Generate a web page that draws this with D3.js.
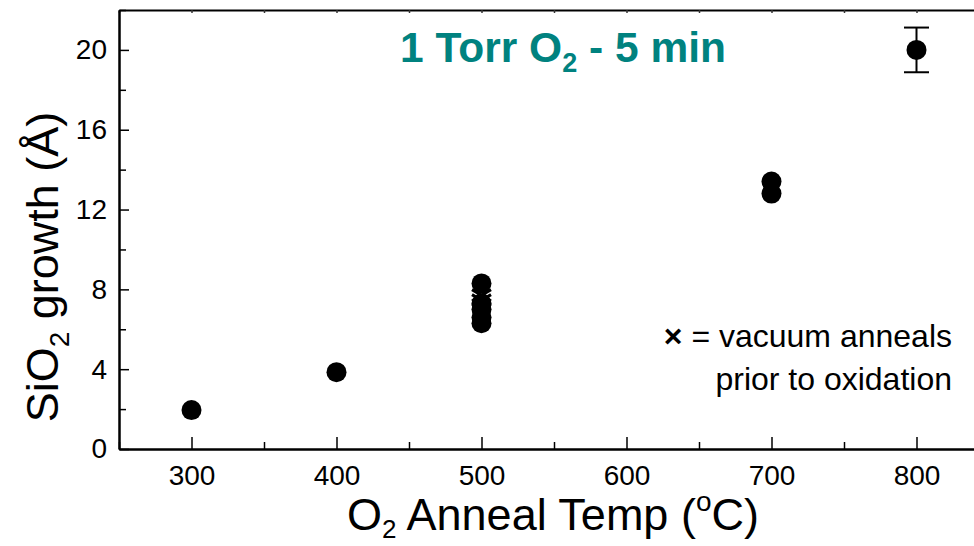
<!DOCTYPE html>
<html>
<head>
<meta charset="utf-8">
<script src="https://cdn.jsdelivr.net/npm/d3@7"></script>
<style>
  body { margin: 0; background: #fff; }
  svg { display: block; font-family: "Liberation Sans", Arial, sans-serif; }
</style>
</head>
<body>
<div id="chart"></div>
<script>
// data
const temps = [300, 400, 500, 500, 500, 500, 500, 700, 700, 800];
const growth = [1.95, 3.85, 8.3, 7.3, 7.0, 6.6, 6.3, 13.4, 12.8, 20];
const vacTemps = [500, 500];
const vacGrowth = [7.7, 7.45];
const errTemp = 800, errValue = 20, errHalf = 1.12;

const xMajor = [300, 400, 500, 600, 700, 800];
const xMinor = [250, 350, 450, 550, 650, 750, 850];
const yMajor = [0, 4, 8, 12, 16, 20];
const yMinor = [2, 6, 10, 14, 18, 22];

const W = 974, H = 546;
let margin = {top: 10, left: 119};
let width = 870, height = 439;

const svg = d3.select("#chart").append("svg")
    .attr("width", W).attr("height", H);

const g = svg.append("g")
    .attr("transform", "translate(" + margin.left + "," + margin.top + ")");

const x = d3.scaleLinear().domain([250, 850]).range([0, width]);
const y = d3.scaleLinear().domain([0, 22]).range([height, 0]);

// bottom axis
const xAx = g.append("g")
    .attr("transform", "translate(0," + height + ")")
    .call(d3.axisBottom(x).tickValues(xMajor).tickSizeInner(-12).tickSizeOuter(0).tickPadding(16));
g.append("g")
    .attr("transform", "translate(0," + height + ")")
    .call(d3.axisBottom(x).tickValues(xMinor).tickSizeInner(-7).tickSizeOuter(0).tickFormat(""));

// top axis, short ticks
g.append("g")
    .call(d3.axisTop(x).tickValues(xMajor.concat(xMinor)).tickSizeInner(-3).tickSizeOuter(0).tickFormat(""))
    .selectAll("path,line").attr("stroke", "#333");

// left axis
const yAx = g.append("g")
    .call(d3.axisLeft(y).tickValues(yMajor).tickSizeInner(-10).tickSizeOuter(0).tickPadding(12));
g.append("g")
    .call(d3.axisLeft(y).tickValues(yMinor).tickSizeInner(-7).tickSizeOuter(0).tickFormat(""));

// right axis (mostly off canvas)
g.append("g")
    .attr("transform", "translate(" + width + ",0)")
    .call(d3.axisRight(y).tickValues(yMajor).tickSizeInner(-10).tickSizeOuter(0).tickFormat(""));

g.selectAll(".domain").attr("stroke-width", 2).attr("stroke", "#000");
g.selectAll(".tick line").attr("stroke-width", 1.5);
g.selectAll("g").attr("font-size", null).attr("font-family", null);
g.selectAll(".tick text")
    .style("font-size", "28px")
    .style("font-family", "'Liberation Sans', Arial, sans-serif")
    .attr("fill", "#000");

// vacuum anneal markers (under the circles)
g.selectAll(".vac")
  .data(vacTemps.map((t, i) => ({t: t, v: vacGrowth[i]})))
  .enter().append("path")
    .attr("class", "vac")
    .attr("d", d => {
      const cx = x(d.t), cy = y(d.v), s = 9.5;
      return "M" + (cx - s) + "," + (cy - s * 0.6) + "L" + (cx + s) + "," + (cy + s * 0.6) +
             "M" + (cx - s) + "," + (cy + s * 0.6) + "L" + (cx + s) + "," + (cy - s * 0.6);
    })
    .attr("stroke", "#000").attr("stroke-width", 3).attr("fill", "none");

// error bar
const ex = x(errTemp);
g.append("line").attr("x1", ex).attr("x2", ex)
    .attr("y1", y(errValue + errHalf)).attr("y2", y(errValue - errHalf))
    .attr("stroke", "#000").attr("stroke-width", 2);
[errValue + errHalf, errValue - errHalf].forEach(v => {
  g.append("line").attr("x1", ex - 12.5).attr("x2", ex + 12.5)
      .attr("y1", y(v)).attr("y2", y(v))
      .attr("stroke", "#000").attr("stroke-width", 2);
});

// data points
g.selectAll(".pt")
  .data(temps.map((t, i) => ({t: t, v: growth[i]})))
  .enter().append("circle")
    .attr("class", "pt")
    .attr("cx", d => x(d.t))
    .attr("cy", d => y(d.v))
    .attr("r", 10)
    .attr("fill", "#000");

// title
const title = svg.append("text")
    .attr("x", 563).attr("y", 62)
    .attr("text-anchor", "middle")
    .style("font-size", "42.5px").attr("font-weight", "bold").attr("fill", "#00827f");
title.append("tspan").text("1 Torr O");
title.append("tspan").style("font-size", "27px").attr("dy", 10).text("2");
title.append("tspan").attr("dy", -10).text(" - 5 min");

// annotation
svg.append("text")
    .attr("x", 952).attr("y", 347).attr("text-anchor", "end")
    .style("font-size", "32px").attr("fill", "#000")
    .call(t => {
      t.append("tspan").attr("font-weight", "bold").text("×");
      t.append("tspan").text(" = vacuum anneals");
    });
svg.append("text")
    .attr("x", 952).attr("y", 390).attr("text-anchor", "end")
    .style("font-size", "32px").attr("fill", "#000")
    .text("prior to oxidation");

// x axis title
const xt = svg.append("text")
    .attr("x", 553).attr("y", 530)
    .attr("text-anchor", "middle")
    .style("font-size", "45px").attr("fill", "#000");
xt.append("tspan").text("O");
xt.append("tspan").style("font-size", "26px").attr("dy", 8).text("2");
xt.append("tspan").attr("dy", -8).text(" Anneal Temp (");
xt.append("tspan").style("font-size", "28px").attr("dy", -19).text("o");
xt.append("tspan").attr("dy", 19).text("C)");

// y axis title
const yt = svg.append("text")
    .attr("transform", "translate(58,267) rotate(-90)")
    .attr("text-anchor", "middle")
    .style("font-size", "45px").attr("fill", "#000");
yt.append("tspan").text("SiO");
yt.append("tspan").style("font-size", "28px").attr("dy", 11).text("2");
yt.append("tspan").attr("dy", -11).text(" growth (Å)");
</script>
</body>
</html>
